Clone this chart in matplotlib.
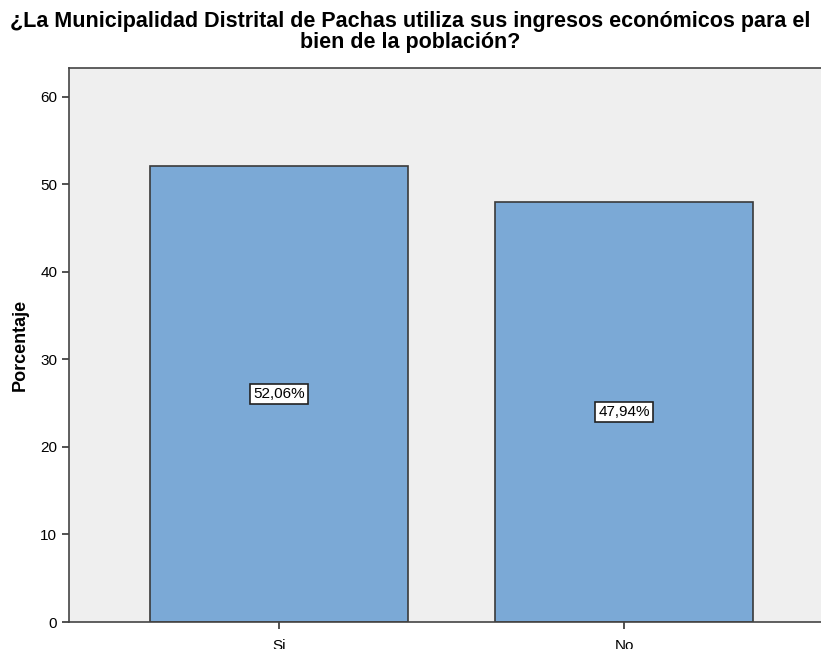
import matplotlib
matplotlib.use("Agg")
import matplotlib.pyplot as plt
from matplotlib import font_manager

categories = ["Si", "No"]
values = [52.06, 47.94]
labels = ["52,06%", "47,94%"]
yticks = [0, 10, 20, 30, 40, 50, 60]

names = {f.name for f in font_manager.fontManager.ttflist}
fam = "Liberation Sans Narrow" if "Liberation Sans Narrow" in names else "Liberation Sans"
plt.rcParams['font.family'] = [fam, 'DejaVu Sans']

fig = plt.figure(figsize=(8.21, 6.49), dpi=100)
ax = fig.add_axes([69/821, 27/649, (834-69)/821, (622-68)/649])
ax.set_facecolor("#EFEFEF")
x = list(range(len(categories)))
ax.bar(x, values, width=0.748, color="#7BA9D6", edgecolor="#3a3a3a", linewidth=1.2, zorder=2)
ax.set_xlim(-0.609, 1.609)
ax.set_ylim(0, 63.3)
ax.set_yticks(yticks)
ax.set_xticks(x)
ax.set_xticklabels(categories)
ax.tick_params(axis='both', labelsize=11, length=5, width=1.2, color="#333333", direction='out')
ax.tick_params(axis='x', pad=7)
for s in ax.spines.values():
    s.set_color("#444444")
    s.set_linewidth(1.2)
for xi, v, lab in zip(x, values, labels):
    ax.text(xi, v/2, lab, ha='center', va='center', fontsize=11,
            bbox=dict(boxstyle='square,pad=0.2', facecolor='white', edgecolor='#222222', linewidth=1.2), zorder=3)
ax.set_ylabel("Porcentaje", fontsize=13, fontweight='bold', labelpad=8)
fig.text(0.5, 1-32/649, "¿La Municipalidad Distrital de Pachas utiliza sus ingresos económicos para el\nbien de la población?",
         ha='center', va='center', fontsize=15.5, fontweight='bold', linespacing=0.95)
fig.savefig("out.png", dpi=100)
